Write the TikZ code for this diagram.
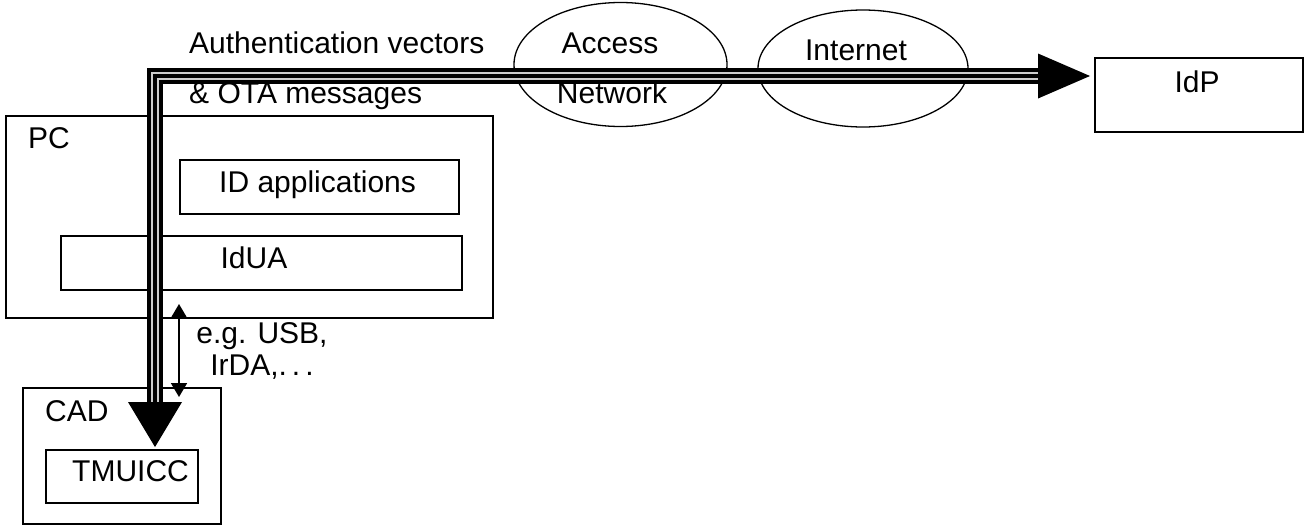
\documentclass[tikz,border=0pt]{standalone}
\usepackage{fontspec}
\setmainfont{Liberation Sans}
\usetikzlibrary{arrows.meta,calc,shapes.geometric}
\definecolor{stripe}{gray}{0.8}
\begin{document}
\begin{tikzpicture}[x=1pt,y=-1pt,
  box/.style={draw, line width=1.6pt, inner sep=0pt, anchor=north west},
  cloud/.style={draw, ellipse, line width=1.3pt, inner sep=0pt},
  lbl/.style={font=\fontsize{30}{35}\selectfont, inner sep=0pt},
  tipsmall/.style={line width=1.8pt, {Triangle[length=14pt,width=16pt]}-{Triangle[length=14pt,width=16pt]}}]
\useasboundingbox (0,0) rectangle (1305,525);

% boxes
\node[box, minimum width=487pt, minimum height=202pt] (pc) at (5,115) {};
\node[box, minimum width=279pt, minimum height=54pt] (idapp) at (179,159) {};
\node[box, minimum width=401pt, minimum height=54pt] (idua) at (60,235) {};
\node[box, minimum width=198pt, minimum height=136pt] (cad) at (22,387) {};
\node[box, minimum width=152pt, minimum height=53pt] (tmuicc) at (45,449) {};
\node[box, minimum width=208pt, minimum height=74pt] (idp) at (1094,57) {};

% networks
\node[cloud, minimum width=213pt, minimum height=124pt] (access) at (620.5,64.5) {};
\node[cloud, minimum width=210pt, minimum height=117pt] (inet) at (863,68.5) {};

% triple-line channel between CAD and IdP
\coordinate (vbase) at (155,402);
\coordinate (vtip) at (155,447);
\coordinate (hbase) at (1038,76);
\coordinate (htip) at (1090,76);
\foreach \w/\c in {16/black, 8/stripe, 4/black}
  \draw[line width=\w pt, draw=\c, line join=miter] (vbase) |- (hbase);
\fill ($(hbase)+(0,-22.5)$) -- (htip) -- ($(hbase)+(0,22.5)$) -- cycle;
\fill ($(vbase)+(-27,0)$) -- (vtip) -- ($(vbase)+(27,0)$) -- cycle;

% local link PC <-> CAD
\coordinate (usbtop) at (179,304);
\coordinate (usbbot) at (179,397);
\draw[tipsmall] (usbtop) -- (usbbot);

% labels
\node[lbl, anchor=base west] (lauth) at (189,53) {Authentication vectors};
\node[lbl, anchor=base west] (lota) at (189,103) {\& OTA messages};
\node[lbl, anchor=base] (lacc) at (610,53) {Access};
\node[lbl, anchor=base] (lnet) at (612,103) {Network};
\node[lbl, anchor=base] (linet) at (856,60) {Internet};
\node[lbl, anchor=base] (lidp) at (1197,92) {IdP};
\node[lbl, anchor=base west] (lpc) at (28,148) {PC};
\node[lbl, anchor=base west] (lidapp) at (219,192) {ID applications};
\node[lbl, anchor=base] (lidua) at (254,268) {IdUA};
\node[lbl, anchor=base] (lusb) at (262,343) {e.g. USB,};
\node[lbl, anchor=base] (lirda) at (262,375) {IrDA,.\,.\,.};
\node[lbl, anchor=base west] (lcad) at (45,421) {CAD};
\node[lbl, anchor=base west] (ltm) at (72,481) {TMUICC};
\end{tikzpicture}
\end{document}
